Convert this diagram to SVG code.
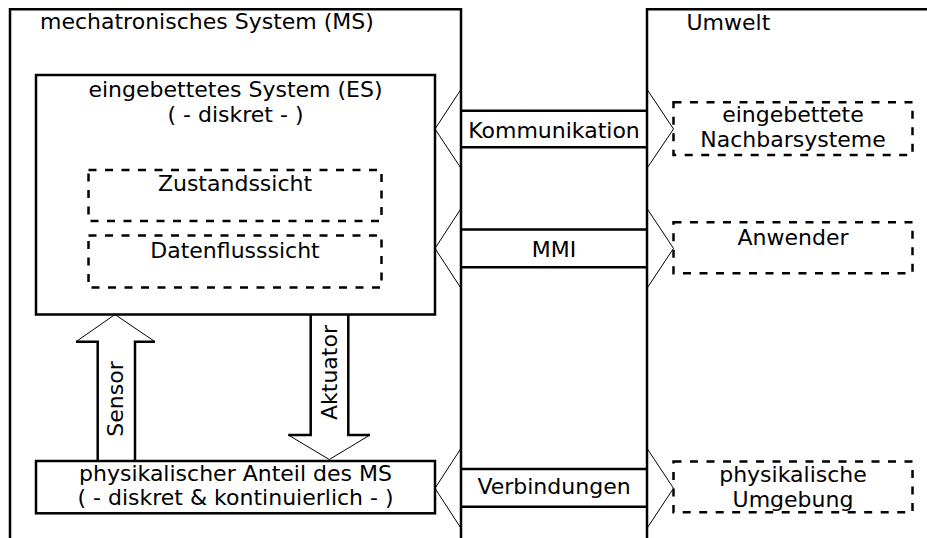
<svg xmlns="http://www.w3.org/2000/svg" width="927" height="538" viewBox="0 0 927 538">
  <style>
    text { font-family: "DejaVu Sans", "Liberation Sans", sans-serif; font-size: 22px; fill: #000; }
    .mid { text-anchor: middle; }
    .frame { fill: none; stroke: #000; stroke-width: 2.5; }
    .box { fill: #fff; stroke: #000; stroke-width: 2.5; }
    .dash { fill: none; stroke: #000; stroke-width: 2.5; stroke-dasharray: 8 8.5; }
    .thick { fill: none; stroke: #000; stroke-width: 2.5; }
    .thin { fill: none; stroke: #000; stroke-width: 1; }
  </style>

  <!-- mechatronic system frame (open at the bottom) -->
  <g id="ms">
    <path class="frame" d="M10,538 V9.3 H461 V538"/>
    <text x="40" y="29">mechatronisches System (MS)</text>
  </g>

  <!-- environment frame -->
  <g id="umwelt">
    <path class="frame" d="M927,9.3 H647 V538"/>
    <text x="686.5" y="30">Umwelt</text>
  </g>

  <!-- embedded system -->
  <g id="es">
    <rect class="box" x="36" y="75" width="399" height="239.5"/>
    <text class="mid" x="235.5" y="97">eingebettetes System (ES)</text>
    <text class="mid" x="235.5" y="122">( - diskret - )</text>
  </g>

  <g id="zustandssicht">
    <rect class="dash" x="88.5" y="170" width="293" height="51"/>
    <text class="mid" x="235" y="191">Zustandssicht</text>
  </g>

  <g id="datenflusssicht">
    <rect class="dash" x="88.5" y="235.5" width="293" height="52"/>
    <text class="mid" x="235" y="257.7">Datenflusssicht</text>
  </g>

  <!-- physical part -->
  <g id="phys">
    <rect class="box" x="36" y="461" width="399" height="52.3"/>
    <text class="mid" x="235.5" y="480.5">physikalischer Anteil des MS</text>
    <text class="mid" x="235.5" y="505">( - diskret &amp; kontinuierlich - )</text>
  </g>

  <!-- environment entities -->
  <g id="nachbarsysteme">
    <rect class="dash" x="673.5" y="102.3" width="239" height="52.7"/>
    <text class="mid" x="793" y="122.3">eingebettete</text>
    <text class="mid" x="793" y="146.7">Nachbarsysteme</text>
  </g>

  <g id="anwender">
    <rect class="dash" x="673.5" y="222.3" width="239" height="51"/>
    <text class="mid" x="793" y="245">Anwender</text>
  </g>

  <g id="umgebung">
    <rect class="dash" x="673.5" y="461.5" width="239" height="50.7"/>
    <text class="mid" x="793" y="481.5">physikalische</text>
    <text class="mid" x="793" y="506.5">Umgebung</text>
  </g>

  <!-- block arrows -->
  <g id="connectors">
    <g id="sensor">
      <path class="thick" d="M97.7,461 V341.7 H76"/>
      <path class="thin" d="M76,341.7 L115,314.5 L155,341.7"/>
      <path class="thick" d="M155,341.7 H135 V461"/>
      <text class="mid" transform="translate(123.3,399) rotate(-90)">Sensor</text>
    </g>
    <g id="aktuator">
      <path class="thick" d="M310.7,314.5 V435 H288.3"/>
      <path class="thin" d="M288.3,435 L329.3,459.5 L370,435"/>
      <path class="thick" d="M370,435 H348.3 V314.5"/>
      <text class="mid" transform="translate(336.7,372.5) rotate(-90)">Aktuator</text>
    </g>
    <g id="kommunikation">
      <path class="thick" d="M461,110.7 H647 M461,147.3 H647"/>
      <path class="thin" d="M461,89.3 L435,129 L461,168.3 M647,89.3 L673.5,129 L647,168.3"/>
      <text class="mid" x="554" y="137.8">Kommunikation</text>
    </g>
    <g id="mmi">
      <path class="thick" d="M461,229.5 H647 M461,267.3 H647"/>
      <path class="thin" d="M461,208.5 L435,248.4 L461,288.3 M647,208.5 L673.5,248.4 L647,288.3"/>
      <text class="mid" x="554" y="256.8">MMI</text>
    </g>
    <g id="verbindungen">
      <path class="thick" d="M461,469 H647 M461,506.7 H647"/>
      <path class="thin" d="M461,448.3 L435,488.3 L461,528.3 M647,448.3 L673.5,488.3 L647,528.3"/>
      <text class="mid" x="554" y="494">Verbindungen</text>
    </g>
  </g>
</svg>
